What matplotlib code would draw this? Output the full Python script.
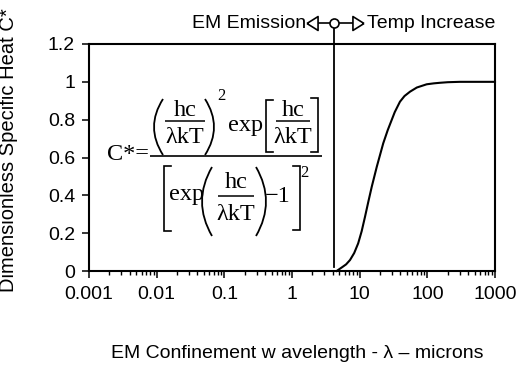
import matplotlib
matplotlib.use("Agg")
import matplotlib.pyplot as plt
from matplotlib.ticker import FixedLocator, LogLocator, NullFormatter
from matplotlib.path import Path
from matplotlib.patches import PathPatch

# Data
wavelength_um = [4.57, 5.5, 6.3, 7.2, 8.3, 9.5, 10.7, 12.0, 13.5, 15.1, 17.9, 22.3, 26.0,
                 29.7, 33.0, 39.4, 46.0, 55.5, 70.0, 97.8, 125, 154, 200, 302, 1000]
c_star = [0.0, 0.02, 0.035, 0.058, 0.095, 0.146, 0.21, 0.287, 0.37, 0.446, 0.551, 0.675, 0.745,
          0.798, 0.84, 0.895, 0.925, 0.948, 0.97, 0.987, 0.992, 0.995, 0.998, 1.0, 1.0]
marker_line_x = [4.2, 4.2]
marker_line_y = [0.02, 1.31]
x_ticks = [0.001, 0.01, 0.1, 1, 10, 100, 1000]
x_tick_labels = ["0.001", "0.01", "0.1", "1", "10", "100", "1000"]
y_ticks = [0, 0.2, 0.4, 0.6, 0.8, 1.0, 1.2]
y_tick_labels = ["0", "0.2", "0.4", "0.6", "0.8", "1", "1.2"]

plt.rcParams['font.family'] = ['Liberation Sans', 'DejaVu Sans']
FS = 14

W, H = 521, 376
fig = plt.figure(figsize=(W/100, H/100), dpi=100)
ax = fig.add_axes([89/W, 1-271/H, (495-89)/W, (271-44)/H])

ax.plot(wavelength_um, c_star, color='black', lw=1.5, clip_on=False, zorder=3,
        solid_joinstyle='round')
ax.plot(marker_line_x, marker_line_y, color='black', lw=1.3, clip_on=False, zorder=3)

ax.set_xscale('log')
ax.set_xlim(0.001, 1000)
ax.set_ylim(0, 1.2)
ax.xaxis.set_major_locator(FixedLocator(x_ticks))
ax.set_xticklabels(x_tick_labels)
ax.xaxis.set_minor_locator(LogLocator(base=10, subs=range(2, 10), numticks=20))
ax.xaxis.set_minor_formatter(NullFormatter())
ax.set_yticks(y_ticks)
ax.set_yticklabels(y_tick_labels)

ax.tick_params(axis='both', which='major', direction='out', length=5, width=1.1,
               labelsize=FS, color='black')
ax.tick_params(axis='x', which='major', pad=6)
ax.tick_params(axis='y', which='major', pad=5)
ax.tick_params(axis='x', which='minor', direction='out', length=3, width=1.0)
for s in ax.spines.values():
    s.set_linewidth(1.5)
    s.set_color('black')

ax.set_ylabel('Dimensionless Specific Heat C*', fontsize=14.5)
ax.yaxis.set_label_coords(-(89-18)/406, (271-150)/227)
ax.set_xlabel('EM Confinement w avelength - λ – microns', fontsize=FS)
ax.xaxis.set_label_coords((297-89)/406, -(353-271)/227)
ax.xaxis.label.set_va('center')

# Annotation above plot
ya = (271-23)/227
xl = (312-89)/406
xc = (334-89)/406
xr = (358-89)/406
tr = ax.transAxes
ax.plot([xl, xr], [ya, ya], color='black', lw=1.2, transform=tr, clip_on=False, zorder=4)
tri_left = [(-0.6, 0), (0.6, 0.75), (0.6, -0.75), (-0.6, 0)]
tri_right = [(0.6, 0), (-0.6, 0.75), (-0.6, -0.75), (0.6, 0)]
ax.plot([xl], [ya], marker=tri_left, ms=10, mfc='white', mec='black', mew=1.2,
        transform=tr, clip_on=False, zorder=5, ls='none')
ax.plot([xr], [ya], marker=tri_right, ms=10, mfc='white', mec='black', mew=1.2,
        transform=tr, clip_on=False, zorder=5, ls='none')
ax.plot([xc], [ya], marker='o', ms=6.5, mfc='white', mec='black', mew=1.2,
        transform=tr, clip_on=False, zorder=5, ls='none')
ax.text((306-89)/406, ya, 'EM Emission', transform=tr, ha='right', va='center', fontsize=FS)
ax.text((367-89)/406, ya, 'Temp Increase', transform=tr, ha='left', va='center', fontsize=FS)

# Formula drawn in an overlay in pixel coordinates
ov = fig.add_axes([0, 0, 1, 1], facecolor='none')
ov.set_xlim(0, W)
ov.set_ylim(H, 0)
ov.axis('off')
SERIF = ['Liberation Serif', 'DejaVu Serif']
EFS = 17.5

def t(x, y, s, ha='center', size=EFS):
    ov.text(x, y, s, ha=ha, va='baseline', fontsize=size, family=SERIF)

def hline(x0, x1, y, lw=1.1):
    ov.plot([x0, x1], [y, y], color='black', lw=lw, solid_capstyle='butt')

def paren(x0, x1, top, bot, left=True):
    mid = (top + bot) / 2
    if left:
        verts = [(x1, top), (2*x0 - x1, mid), (x1, bot)]
    else:
        verts = [(x0, top), (2*x1 - x0, mid), (x0, bot)]
    ov.add_patch(PathPatch(Path(verts, [Path.MOVETO, Path.CURVE3, Path.CURVE3]),
                           fill=False, lw=1.3, ec='black'))

def bracket(x0, x1, top, bot, left=True):
    xv = x0 if left else x1
    xe = x1 if left else x0
    ov.plot([xe, xv, xv, xe], [top, top, bot, bot], color='black', lw=1.2,
            solid_joinstyle='miter')

def frac(xc_, x0, x1, ybar, ynum, yden):
    t(xc_, ynum, 'hc')
    hline(x0, x1, ybar)
    t(xc_, yden, 'λkT')

# left side
t(107, 160, 'C*=', ha='left')
hline(150, 322, 156, lw=1.2)
# numerator
paren(154, 163, 99, 155, left=True)
frac(185, 165, 205, 121, 116, 143)
paren(205, 214, 99, 155, left=False)
t(221, 100, '2', size=12)
t(246, 131, 'exp')
bracket(266, 273, 100, 152, left=True)
frac(293, 276, 310, 121, 116, 143)
bracket(311, 318, 98, 152, left=False)
# denominator
bracket(164, 171, 166, 231, left=True)
t(187, 200, 'exp')
paren(202, 212, 167, 236, left=True)
frac(236, 218, 254, 196, 188, 220)
paren(256, 266, 167, 236, left=False)
t(278, 202, '−1')
bracket(293, 300, 166, 230, left=False)
t(304, 177, '2', size=12)

fig.savefig('out.png', dpi=100)
